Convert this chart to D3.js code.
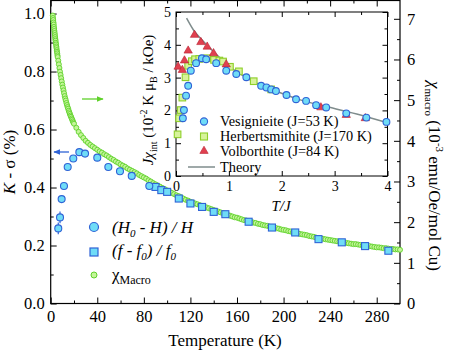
<!DOCTYPE html>
<html>
<head>
<meta charset="utf-8">
<script src="https://cdn.jsdelivr.net/npm/d3@7"></script>
<style>
  body { margin: 0; background: #fff; }
</style>
</head>
<body>
<div id="chart"></div>
<script>
// ---- main panel data ----
// (H0 - H) / H, left axis
const nmrTemp = [6.5, 8, 9.4, 11.4, 14.6, 19.4, 24.6, 29.5, 40, 49.5, 59.5, 69.6, 84.7];
const nmrShift = [0.259, 0.297, 0.36, 0.405, 0.471, 0.50, 0.522, 0.517, 0.503, 0.471, 0.456, 0.44, 0.405];
const nmrErr = [0.02, 0.02, 0, 0, 0, 0, 0, 0, 0, 0, 0, 0, 0];
// (f - f0) / f0, left axis
const freqTemp = [90, 95, 100, 110, 120, 130, 140, 150, 170, 190, 210, 230, 250, 270, 290];
const freqShift = [0.402, 0.391, 0.385, 0.362, 0.345, 0.333, 0.316, 0.308, 0.282, 0.262, 0.245, 0.222, 0.211, 0.198, 0.182];
// chi macro, right axis
const chiTemp = [1.8, 2.0, 2.2, 2.4, 2.6, 2.8, 3.0, 3.2, 3.4, 3.6, 3.8, 4.0, 4.2, 4.4, 4.6, 4.8, 5.0, 5.2, 5.4, 5.6, 5.8, 6.0,
  6.5, 7, 7.5, 8, 8.5, 9, 9.5, 10, 10.5, 11, 11.5, 12, 12.5, 13, 13.5, 14, 14.5, 15, 15.5, 16, 16.5, 17, 17.5, 18, 18.5, 19, 19.5,
  20, 22, 24, 26, 28, 30, 32, 34, 36, 38, 40,
  42, 44, 46, 48, 50, 52, 54, 56, 58, 60, 62, 64, 66, 68, 70, 72, 74, 76, 78, 80,
  82, 84, 86, 88, 90, 92, 94, 96, 98, 100, 102, 104, 106, 108, 110, 112, 114, 116, 118, 120,
  122, 124, 126, 128, 130, 132, 134, 136, 138, 140, 142, 144, 146, 148, 150, 152, 154, 156, 158, 160,
  162, 164, 166, 168, 170, 172, 174, 176, 178, 180, 182, 184, 186, 188, 190, 192, 194, 196, 198, 200,
  202, 204, 206, 208, 210, 212, 214, 216, 218, 220, 222, 224, 226, 228, 230, 232, 234, 236, 238, 240,
  242, 244, 246, 248, 250, 252, 254, 256, 258, 260, 262, 264, 266, 268, 270, 272, 274, 276, 278, 280,
  282, 284, 286, 288, 290, 292, 294, 296, 298, 300];
const chiMacro = [7.08, 7.02, 6.97, 6.91, 6.86, 6.80, 6.75, 6.70, 6.65, 6.60, 6.55, 6.50, 6.46, 6.41, 6.37, 6.32, 6.28, 6.23, 6.19, 6.15, 6.10, 6.06,
  5.97, 5.88, 5.79, 5.70, 5.62, 5.54, 5.46, 5.38, 5.31, 5.24, 5.17, 5.10, 5.04, 4.99, 4.93, 4.88, 4.83, 4.79, 4.74, 4.70, 4.66, 4.62, 4.59, 4.55, 4.52, 4.48, 4.45,
  4.42, 4.32, 4.22, 4.14, 4.07, 4.00, 3.95, 3.90, 3.86, 3.82, 3.78,
  3.74, 3.71, 3.67, 3.64, 3.60, 3.56, 3.53, 3.49, 3.46, 3.42, 3.39, 3.36, 3.32, 3.29, 3.26, 3.23, 3.20, 3.16, 3.13, 3.10,
  3.07, 3.03, 3.00, 2.96, 2.93, 2.90, 2.87, 2.84, 2.81, 2.78, 2.75, 2.72, 2.69, 2.66, 2.64, 2.61, 2.58, 2.55, 2.53, 2.50,
  2.48, 2.46, 2.44, 2.42, 2.40, 2.38, 2.36, 2.34, 2.32, 2.30, 2.28, 2.26, 2.24, 2.22, 2.20, 2.18, 2.16, 2.14, 2.12, 2.11,
  2.09, 2.07, 2.05, 2.04, 2.02, 2.01, 1.99, 1.98, 1.96, 1.95, 1.93, 1.92, 1.91, 1.89, 1.88, 1.87, 1.85, 1.84, 1.82, 1.81,
  1.80, 1.78, 1.77, 1.75, 1.74, 1.73, 1.71, 1.70, 1.69, 1.68, 1.66, 1.65, 1.64, 1.62, 1.61, 1.60, 1.59, 1.58, 1.57, 1.56,
  1.55, 1.54, 1.53, 1.52, 1.51, 1.50, 1.49, 1.48, 1.47, 1.46, 1.46, 1.45, 1.44, 1.43, 1.42, 1.41, 1.41, 1.40, 1.39, 1.38,
  1.38, 1.37, 1.36, 1.36, 1.35, 1.34, 1.34, 1.33, 1.33, 1.32];

// ---- inset data (T/J vs J*chi) ----
const vesX = [0.13, 0.15, 0.19, 0.23, 0.28, 0.38, 0.49, 0.57, 0.76, 0.95, 1.14, 1.33, 1.61, 1.71, 1.80, 1.89, 2.09, 2.27, 2.46, 2.65, 2.84, 3.22, 3.60, 3.98];
const vesY = [1.76, 2.01, 2.45, 2.75, 3.21, 3.44, 3.59, 3.56, 3.44, 3.21, 3.11, 3.01, 2.75, 2.70, 2.64, 2.59, 2.47, 2.34, 2.29, 2.16, 2.09, 1.91, 1.78, 1.65];
const herbX = [0.03, 0.06, 0.09, 0.12, 0.18, 0.23, 0.30, 0.36, 0.44, 0.59, 0.72, 0.82, 0.89, 1.02, 1.19, 1.47, 1.80];
const herbY = [1.27, 1.76, 2.01, 2.39, 3.01, 3.36, 3.50, 3.56, 3.57, 3.59, 3.54, 3.52, 3.49, 3.33, 3.19, 2.89, 2.64];
const volbX = [0.04, 0.12, 0.16, 0.23, 0.35, 0.47, 0.59, 0.71, 0.95, 2.74, 3.22, 3.58];
const volbY = [3.33, 3.23, 3.52, 3.82, 4.30, 4.08, 3.94, 3.74, 3.40, 2.09, 1.86, 1.76];
const theoryX = [0.2, 0.33, 0.52, 0.74, 1.02, 1.40, 1.84, 2.35, 2.86, 3.49, 4.0];
const theoryY = [4.81, 4.45, 4.10, 3.74, 3.33, 2.93, 2.62, 2.32, 2.11, 1.86, 1.62];

// ticks
const xMajor = [0, 40, 80, 120, 160, 200, 240, 280];
const xMinor = [20, 60, 100, 140, 180, 220, 260];
const yLMajor = [0, 0.2, 0.4, 0.6, 0.8, 1.0];
const yLMinor = [0.1, 0.3, 0.5, 0.7, 0.9];
const yRMajor = [0, 1, 2, 3, 4, 5, 6, 7];
const yRMinor = [0.5, 1.5, 2.5, 3.5, 4.5, 5.5, 6.5];
const ixMajor = [0, 1, 2, 3, 4];
const ixMinor = [0.5, 1.5, 2.5, 3.5];
const iyMajor = [0, 1, 2, 3, 4, 5];
const iyMinor = [0.5, 1.5, 2.5, 3.5, 4.5];

const width = 450, height = 352;
const serif = "Liberation Serif, DejaVu Serif, serif";
const blueStroke = "#2f63d6", blueFill = "#6fdcf7";
const greenStroke = "#5fd12a", greenFill = "#c4f59a";

const svg = d3.select("#chart").append("svg")
  .attr("width", width).attr("height", height)
  .attr("font-family", serif);

const x = d3.scaleLinear().domain([0, 300]).range([50.7, 400]);
const yL = d3.scaleLinear().domain([0, 1.045]).range([303.5, 0.5]);
const yR = d3.scaleLinear().domain([0, 7.45]).range([303.5, 0.5]);

function styleAxis(g, fs) {
  g.attr("font-family", serif);
  g.select(".domain").remove();
  g.selectAll("line").attr("stroke", "#000").attr("stroke-width", 1);
  g.selectAll("text").attr("font-size", fs).attr("fill", "#000");
}

// main axes
svg.append("g").attr("transform", "translate(0,303.5)")
  .call(d3.axisBottom(x).tickValues(xMajor).tickSize(-6).tickPadding(7))
  .call(g => styleAxis(g, 16.5));
svg.append("g").attr("transform", "translate(0,303.5)")
  .call(d3.axisBottom(x).tickValues(xMinor).tickSize(-3).tickFormat(""))
  .call(g => styleAxis(g, 16.5));
svg.append("g").attr("transform", "translate(0,0.5)")
  .call(d3.axisTop(x).tickValues(xMajor).tickSize(-6).tickFormat(""))
  .call(g => styleAxis(g, 16.5));
svg.append("g").attr("transform", "translate(0,0.5)")
  .call(d3.axisTop(x).tickValues(xMinor).tickSize(-3).tickFormat(""))
  .call(g => styleAxis(g, 16.5));
svg.append("g").attr("transform", "translate(50.7,0)")
  .call(d3.axisLeft(yL).tickValues(yLMajor).tickSize(-6).tickPadding(6).tickFormat(d3.format(".1f")))
  .call(g => styleAxis(g, 16.5));
svg.append("g").attr("transform", "translate(50.7,0)")
  .call(d3.axisLeft(yL).tickValues(yLMinor).tickSize(-3).tickFormat(""))
  .call(g => styleAxis(g, 16.5));
svg.append("g").attr("transform", "translate(400,0)")
  .call(d3.axisRight(yR).tickValues(yRMajor).tickSize(-6).tickPadding(7).tickFormat(d3.format("d")))
  .call(g => styleAxis(g, 16.5));
svg.append("g").attr("transform", "translate(400,0)")
  .call(d3.axisRight(yR).tickValues(yRMinor).tickSize(-3).tickFormat(""))
  .call(g => styleAxis(g, 16.5));

svg.append("rect")
  .attr("x", x(0)).attr("y", 0.5)
  .attr("width", x(300) - x(0)).attr("height", 303)
  .attr("fill", "none").attr("stroke", "#000").attr("stroke-width", 1.2);

// chi macro (green)
svg.append("g").selectAll("circle").data(chiTemp).join("circle")
  .attr("cx", d => x(d))
  .attr("cy", (d, i) => yR(chiMacro[i]))
  .attr("r", 2.5)
  .attr("fill", greenFill).attr("stroke", greenStroke).attr("stroke-width", 0.9);

// error bars
svg.append("g").selectAll("line").data(nmrTemp.filter((d, i) => nmrErr[i] > 0)).join("line")
  .attr("x1", d => x(d)).attr("x2", d => x(d))
  .attr("y1", d => yL(nmrShift[nmrTemp.indexOf(d)] - nmrErr[nmrTemp.indexOf(d)]))
  .attr("y2", d => yL(nmrShift[nmrTemp.indexOf(d)] + nmrErr[nmrTemp.indexOf(d)]))
  .attr("stroke", blueStroke).attr("stroke-width", 1.2);

// squares
svg.append("g").selectAll("rect").data(freqTemp).join("rect")
  .attr("x", d => x(d) - 3.5)
  .attr("y", (d, i) => yL(freqShift[i]) - 3.5)
  .attr("width", 7).attr("height", 7)
  .attr("fill", blueFill).attr("stroke", blueStroke).attr("stroke-width", 1.1);

// circles
svg.append("g").selectAll("circle").data(nmrTemp).join("circle")
  .attr("cx", d => x(d))
  .attr("cy", (d, i) => yL(nmrShift[i]))
  .attr("r", 3.5)
  .attr("fill", blueFill).attr("stroke", blueStroke).attr("stroke-width", 1.1);

// arrows
const defs = svg.append("defs");
function marker(id, color) {
  defs.append("marker").attr("id", id)
    .attr("viewBox", "0 0 10 10").attr("refX", 9).attr("refY", 5)
    .attr("markerWidth", 7).attr("markerHeight", 7).attr("orient", "auto")
    .attr("markerUnits", "userSpaceOnUse")
    .append("path").attr("d", "M0,1 L10,5 L0,9 Z").attr("fill", color);
}
marker("ag", greenStroke);
marker("ab", blueStroke);
svg.append("line").attr("x1", 82).attr("y1", 99).attr("x2", 103).attr("y2", 99)
  .attr("stroke", greenStroke).attr("stroke-width", 1.3).attr("marker-end", "url(#ag)");
svg.append("line").attr("x1", 69).attr("y1", 152).attr("x2", 54).attr("y2", 152)
  .attr("stroke", blueStroke).attr("stroke-width", 1.3).attr("marker-end", "url(#ab)");

// main legend
const lg = svg.append("g");
lg.append("circle").attr("cx", 94).attr("cy", 227).attr("r", 4.5)
  .attr("fill", blueFill).attr("stroke", blueStroke).attr("stroke-width", 1.2);
lg.append("rect").attr("x", 90).attr("y", 248).attr("width", 8).attr("height", 8)
  .attr("fill", blueFill).attr("stroke", blueStroke).attr("stroke-width", 1.2);
lg.append("circle").attr("cx", 94).attr("cy", 275).attr("r", 3)
  .attr("fill", greenFill).attr("stroke", greenStroke).attr("stroke-width", 1);

const t1 = lg.append("text").attr("x", 112).attr("y", 233).attr("font-size", 17).attr("font-style", "italic");
t1.append("tspan").text("(H");
t1.append("tspan").attr("font-size", 11).attr("dy", 4).text("0");
t1.append("tspan").attr("dy", -4).text(" - H) / H");
const t2 = lg.append("text").attr("x", 112).attr("y", 256).attr("font-size", 17).attr("font-style", "italic");
t2.append("tspan").text("(f - f");
t2.append("tspan").attr("font-size", 11).attr("dy", 4).text("0");
t2.append("tspan").attr("dy", -4).text(") / f");
t2.append("tspan").attr("font-size", 11).attr("dy", 4).text("0");
const t3 = lg.append("text").attr("x", 112).attr("y", 280).attr("font-size", 17);
t3.append("tspan").text("χ");
t3.append("tspan").attr("font-size", 12).attr("dy", 4).text("Macro");

// axis titles
svg.append("text").attr("x", 225).attr("y", 346).attr("text-anchor", "middle")
  .attr("font-size", 17).text("Temperature (K)");
const lt = svg.append("text").attr("transform", "translate(15,162) rotate(-90)")
  .attr("text-anchor", "middle").attr("font-size", 17);
lt.append("tspan").attr("font-style", "italic").text("K");
lt.append("tspan").text(" - σ (%)");
const rt = svg.append("text").attr("transform", "translate(429,176) rotate(90)")
  .attr("text-anchor", "middle").attr("font-size", 17);
rt.append("tspan").attr("font-style", "italic").text("χ");
rt.append("tspan").attr("font-size", 11).attr("dy", 4).text("macro");
rt.append("tspan").attr("dy", -4).text(" (10");
rt.append("tspan").attr("font-size", 11).attr("dy", -7).text("-3");
rt.append("tspan").attr("dy", 7).text(" emu/Oe/mol Cu)");

// ---- inset ----
const xi = d3.scaleLinear().domain([0, 4]).range([176, 387.5]);
const yi = d3.scaleLinear().domain([0, 5]).range([176, 12]);
const inset = svg.append("g");
inset.append("rect").attr("x", 176).attr("y", 12).attr("width", 211.5).attr("height", 164)
  .attr("fill", "#fff").attr("stroke", "#000").attr("stroke-width", 1);

inset.append("g").attr("transform", "translate(0,176)")
  .call(d3.axisBottom(xi).tickValues(ixMajor).tickSize(-5).tickPadding(5).tickFormat(d3.format("d")))
  .call(g => styleAxis(g, 14));
inset.append("g").attr("transform", "translate(0,176)")
  .call(d3.axisBottom(xi).tickValues(ixMinor).tickSize(-3).tickFormat(""))
  .call(g => styleAxis(g, 14));
inset.append("g").attr("transform", "translate(0,12)")
  .call(d3.axisTop(xi).tickValues(ixMajor).tickSize(-5).tickFormat(""))
  .call(g => styleAxis(g, 14));
inset.append("g").attr("transform", "translate(0,12)")
  .call(d3.axisTop(xi).tickValues(ixMinor).tickSize(-3).tickFormat(""))
  .call(g => styleAxis(g, 14));
inset.append("g").attr("transform", "translate(176,0)")
  .call(d3.axisLeft(yi).tickValues(iyMajor).tickSize(-5).tickPadding(5).tickFormat(d3.format("d")))
  .call(g => styleAxis(g, 14));
inset.append("g").attr("transform", "translate(176,0)")
  .call(d3.axisLeft(yi).tickValues(iyMinor).tickSize(-3).tickFormat(""))
  .call(g => styleAxis(g, 14));
inset.append("g").attr("transform", "translate(387.5,0)")
  .call(d3.axisRight(yi).tickValues(iyMajor).tickSize(-5).tickFormat(""))
  .call(g => styleAxis(g, 14));
inset.append("g").attr("transform", "translate(387.5,0)")
  .call(d3.axisRight(yi).tickValues(iyMinor).tickSize(-3).tickFormat(""))
  .call(g => styleAxis(g, 14));

const herbStroke = "#8fcf2a", herbFill = "#d7f39a";
const volbFill = "#e0404f", volbStroke = "#b82030";
const tri = d3.symbol().type(d3.symbolTriangle).size(30);

inset.append("path")
  .datum(theoryX.map((d, i) => [d, theoryY[i]]))
  .attr("d", d3.line().curve(d3.curveMonotoneX).x(d => xi(d[0])).y(d => yi(d[1])))
  .attr("fill", "none").attr("stroke", "#7f8c8c").attr("stroke-width", 1.5);

inset.append("g").selectAll("rect").data(herbX).join("rect")
  .attr("x", d => xi(d) - 3.3).attr("y", (d, i) => yi(herbY[i]) - 3.3)
  .attr("width", 6.6).attr("height", 6.6)
  .attr("fill", herbFill).attr("stroke", herbStroke).attr("stroke-width", 1.1);
inset.append("g").selectAll("path").data(volbX).join("path")
  .attr("transform", (d, i) => `translate(${xi(d)},${yi(volbY[i])})`)
  .attr("d", tri).attr("fill", volbFill).attr("stroke", volbStroke).attr("stroke-width", 0.6);
inset.append("g").selectAll("circle").data(vesX).join("circle")
  .attr("cx", d => xi(d)).attr("cy", (d, i) => yi(vesY[i])).attr("r", 3.4)
  .attr("fill", blueFill).attr("stroke", blueStroke).attr("stroke-width", 1.1);

// inset legend
const il = inset.append("g").attr("font-size", 14.3);
il.append("circle").attr("cx", 204).attr("cy", 121.5).attr("r", 3.6)
  .attr("fill", blueFill).attr("stroke", blueStroke).attr("stroke-width", 1.1);
il.append("rect").attr("x", 200.5).attr("y", 133).attr("width", 7).attr("height", 7)
  .attr("fill", herbFill).attr("stroke", herbStroke).attr("stroke-width", 1.1);
il.append("path").attr("transform", "translate(204,151)").attr("d", tri)
  .attr("fill", volbFill).attr("stroke", volbStroke).attr("stroke-width", 0.6);
il.append("line").attr("x1", 188).attr("x2", 215).attr("y1", 167).attr("y2", 167)
  .attr("stroke", "#7f8c8c").attr("stroke-width", 1.5);
il.append("text").attr("x", 220).attr("y", 126).text("Vesignieite (J=53 K)");
il.append("text").attr("x", 220).attr("y", 141).text("Herbertsmithite (J=170 K)");
il.append("text").attr("x", 220).attr("y", 156).text("Volborthite (J=84 K)");
il.append("text").attr("x", 220).attr("y", 172).text("Theory");

// inset titles
inset.append("text").attr("x", 281).attr("y", 211).attr("text-anchor", "middle")
  .attr("font-size", 15).attr("font-style", "italic").text("T/J");
const iyt = inset.append("text").attr("transform", "translate(153,100) rotate(-90)")
  .attr("text-anchor", "middle").attr("font-size", 15);
iyt.append("tspan").attr("font-style", "italic").text("Jχ");
iyt.append("tspan").attr("font-size", 10).attr("dy", 4).text("int");
iyt.append("tspan").attr("dy", -4).text(" (10");
iyt.append("tspan").attr("font-size", 10).attr("dy", -6).text("-2");
iyt.append("tspan").attr("dy", 6).text(" K μ");
iyt.append("tspan").attr("font-size", 10).attr("dy", 4).text("B");
iyt.append("tspan").attr("dy", -4).text(" / kOe)");
</script>
</body>
</html>
